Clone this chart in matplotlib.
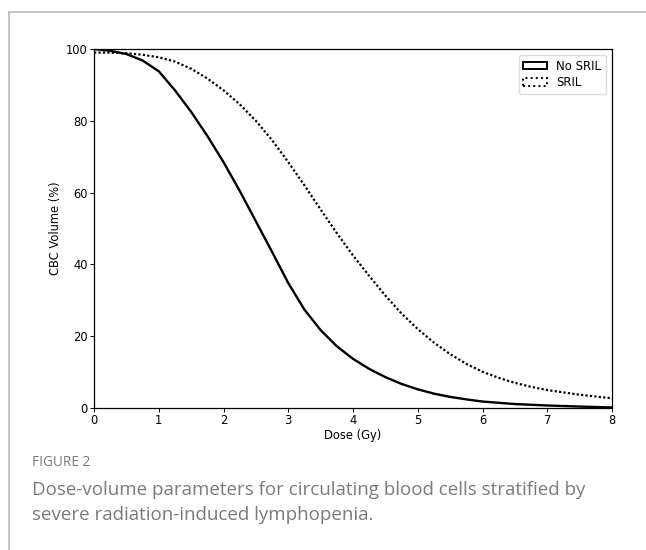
import matplotlib
matplotlib.use("Agg")
import matplotlib.pyplot as plt
from matplotlib.patches import Patch
from matplotlib.lines import Line2D

# Data
dose_no_sril = [0, 0.25, 0.5, 0.75, 1.0, 1.25, 1.5, 1.75, 2.0, 2.25, 2.5, 2.75, 3.0,
                3.25, 3.5, 3.75, 4.0, 4.25, 4.5, 4.75, 5.0, 5.25, 5.5, 5.75, 6.0,
                6.5, 7.0, 7.5, 8.0]
vol_no_sril = [100, 99.5, 98.6, 96.8, 93.8, 88.5, 82.5, 75.8, 68.5, 60.5, 52, 43.5, 34.8,
               27.4, 21.7, 17.2, 13.7, 10.9, 8.6, 6.7, 5.2, 4.0, 3.1, 2.4, 1.8,
               1.1, 0.7, 0.4, 0.15]

dose_sril = [0, 0.25, 0.5, 0.75, 1.0, 1.25, 1.5, 1.75, 2.0, 2.25, 2.5, 2.75, 3.0,
             3.25, 3.5, 3.75, 4.0, 4.25, 4.5, 4.75, 5.0, 5.25, 5.5, 5.75, 6.0,
             6.25, 6.5, 6.75, 7.0, 7.5, 8.0]
vol_sril = [99, 99, 98.8, 98.4, 97.7, 96.5, 94.5, 91.8, 88.5, 84.6, 80, 74.6, 68.5,
            62, 55.3, 48.7, 42.5, 36.8, 31.3, 26.3, 22, 18.2, 15, 12.3, 10.1,
            8.4, 7.0, 5.9, 5.0, 3.7, 2.7]

series_labels = ["No SRIL", "SRIL"]
x_ticks = [0, 1, 2, 3, 4, 5, 6, 7, 8]
y_ticks = [0, 20, 40, 60, 80, 100]

fig = plt.figure(figsize=(6.46, 5.5), dpi=100)

# outer border (top and left gray lines)
fig.add_artist(Line2D([9/646, 1.0], [1 - 12/550, 1 - 12/550], color="#bbbbbb", lw=1.2,
                      transform=fig.transFigure))
fig.add_artist(Line2D([9/646, 9/646], [0, 1 - 12/550], color="#bbbbbb", lw=1.2,
                      transform=fig.transFigure))

ax = fig.add_axes([94/646, 1 - 408/550, (612 - 94)/646, (408 - 49)/550])
ax.plot(dose_no_sril, vol_no_sril, color="black", lw=1.7, ls="-")
ax.plot(dose_sril, vol_sril, color="black", lw=1.6, ls=(0, (1, 1)))

ax.set_xlim(0, 8)
ax.set_ylim(0, 100)
ax.set_xticks(x_ticks)
ax.set_yticks(y_ticks)
ax.tick_params(labelsize=8.3, length=3, width=0.7, pad=1.5)
for s in ax.spines.values():
    s.set_linewidth(0.9)
ax.set_xlabel("Dose (Gy)", fontsize=8.3, labelpad=1.5)
ax.set_ylabel("CBC Volume (%)", fontsize=8.3, labelpad=3)

handles = [Patch(facecolor="none", edgecolor="black", lw=1.4, ls="-"),
           Patch(facecolor="none", edgecolor="black", lw=1.4, ls=":")]
ax.legend(handles, series_labels, loc="upper right", fontsize=8.5, frameon=True,
          handlelength=2.0, handleheight=0.6, borderpad=0.4, labelspacing=0.3,
          handletextpad=0.8, borderaxespad=0.5,
          framealpha=1.0, edgecolor="#dddddd", fancybox=True)

cap_font = ["Open Sans", "DejaVu Sans"]
fig.text(32/646, 1 - 462/550, "FIGURE 2", fontsize=9.8, color="#7a7a7a",
         family=cap_font, va="center", ha="left")
fig.text(32/646, 1 - 490/550, "Dose-volume parameters for circulating blood cells stratified by",
         fontsize=13.5, color="#7a7a7a", family=cap_font, va="center", ha="left")
fig.text(32/646, 1 - 515/550, "severe radiation-induced lymphopenia.",
         fontsize=13.5, color="#7a7a7a", family=cap_font, va="center", ha="left")

fig.savefig("out.png", dpi=100, facecolor="white")
